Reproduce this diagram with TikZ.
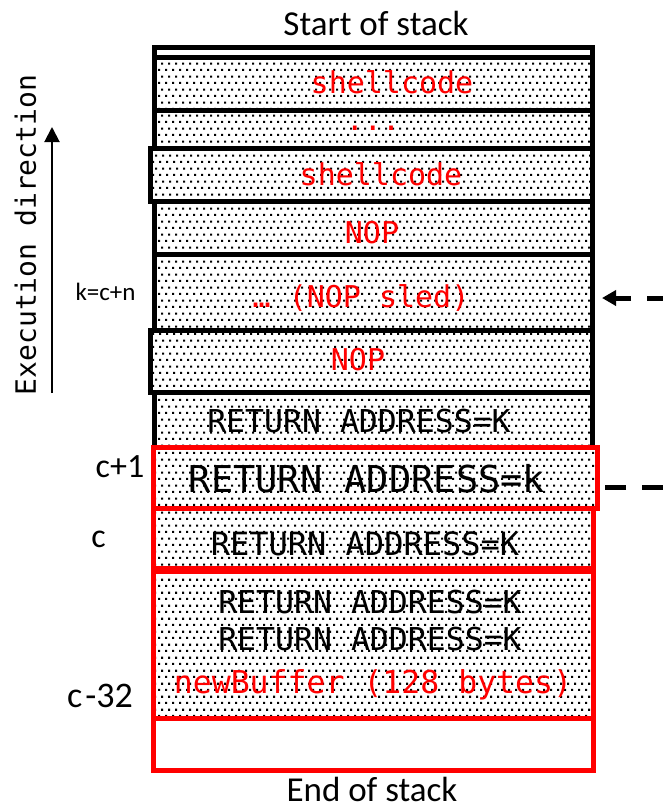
\documentclass[tikz,border=0pt]{standalone}
\usepackage{fontspec}
\setmainfont{Carlito}
\newfontfamily\codefont{DejaVu Sans Mono}
\usetikzlibrary{arrows.meta,patterns.meta}

\tikzdeclarepattern{
  name=stackdots,
  type=uncolored,
  bottom left={(0pt,0pt)},
  top right={(6.6pt,13.2pt)},
  tile size={(6.6pt,13.2pt)},
  code={
    \fill (0pt,0pt) rectangle (2.2pt,2.2pt);
    \fill (3.3pt,6.6pt) rectangle (5.5pt,8.8pt);
  }
}

\begin{document}
\begin{tikzpicture}[x=1pt,y=-1pt]
  \useasboundingbox[fill=white] (0,0) rectangle (663,809);

  \coordinate (X) at (0,0);

  % node styles
  \tikzstyle{Box}=[
  anchor=north west,
  shape=rectangle,draw,
  line width=5pt,
  inner sep=0pt,outer sep=0pt]

  \tikzstyle{Dotted}=[Box,preaction={fill=white},pattern=stackdots]
  \tikzstyle{RedBox}=[Dotted,draw=red]

  \tikzstyle{Code}=[anchor=base,inner sep=0pt,text=red,
  font=\codefont\fontsize{30}{30}\selectfont]
  \tikzstyle{Addr}=[Code,text=black,font=\codefont\fontsize{31.5}{31.5}\selectfont]
  \tikzstyle{Label}=[anchor=base,inner sep=0pt,font=\fontsize{34}{34}\selectfont]

  % stack cells, top to bottom
  \draw (X) node[Box,fill=white,minimum width=438pt,minimum height=10pt] (T)  at +(154.5, 47.5) {};
  \draw (X) node[Dotted,minimum width=438pt,minimum height=53pt]   (S1) at +(154.5, 57.5) {};
  \draw (X) node[Dotted,minimum width=438pt,minimum height=37.5pt] (D)  at +(154.5,110.5) {};
  \draw (X) node[Dotted,minimum width=442pt,minimum height=53pt]   (S2) at +(150.5,148.0) {};
  \draw (X) node[Dotted,minimum width=438pt,minimum height=53pt]   (N1) at +(154.5,201.0) {};
  \draw (X) node[Dotted,minimum width=438pt,minimum height=76pt]   (SL) at +(154.5,254.0) {};
  \draw (X) node[Dotted,minimum width=442pt,minimum height=62pt]   (N2) at +(150.5,330.0) {};
  \draw (X) node[Dotted,minimum width=438pt,minimum height=55pt]   (R0) at +(154.5,392.0) {};

  \draw (X) node[RedBox,minimum width=440pt,minimum height=60pt]   (RC) at +(153.5,508.5) {};
  \draw (X) node[RedBox,minimum width=440pt,minimum height=147pt]  (BF) at +(153.5,571.5) {};
  \draw (X) node[Box,draw=red,fill=white,minimum width=440pt,minimum height=51.5pt] (E) at +(153.5,718.5) {};
  \draw (X) node[RedBox,minimum width=443.5pt,minimum height=61pt] (RK) at +(153.5,447.5) {};

  % cell texts
  \draw (X) node[Code] (tS1) at +(392, 93) {shellcode};
  \draw (X) node[Code] (tD)  at +(373,130) {...};
  \draw (X) node[Code] (tS2) at +(381,185) {shellcode};
  \draw (X) node[Code] (tN1) at +(372,243) {NOP};
  \draw (X) node[Code] (tSL) at +(361,307) {… (NOP sled)};
  \draw (X) node[Code] (tN2) at +(358,370) {NOP};
  \draw (X) node[Addr] (tR0) at +(359,432) {RETURN ADDRESS=K};
  \draw (X) node[Addr,font=\codefont\fontsize{37}{37}\selectfont] (tRK) at +(367,492) {RETURN ADDRESS=k};
  \draw (X) node[Addr,font=\codefont\fontsize{32}{32}\selectfont] (tRC) at +(365,555) {RETURN ADDRESS=K};
  \draw (X) node[Addr] (tB1) at +(370,613) {RETURN ADDRESS=K};
  \draw (X) node[Addr] (tB2) at +(370,650) {RETURN ADDRESS=K};
  \draw (X) node[Code,font=\codefont\fontsize{31.5}{31.5}\selectfont] (tB3) at +(373,693) {newBuffer (128 bytes)};

  % labels
  \draw (X) node[Label,font=\fontsize{35}{35}\selectfont] (start) at +(376, 35) {Start of stack};
  \draw (X) node[Label,font=\fontsize{35}{35}\selectfont] (end)   at +(372,801) {End of stack};
  \draw (X) node[Label,font=\fontsize{25}{25}\selectfont] (k)  at +(105.5,300) {k=c+n};
  \draw (X) node[Label] (c1)  at +(120,477) {c+1};
  \draw (X) node[Label] (c0)  at +(98.5,547) {c};
  \draw (X) node[Label,font=\fontsize{36}{36}\selectfont] (c32) at +(100,707) {c\kern3pt-32};
  \draw (X) node[font=\codefont\fontsize{28}{28}\selectfont,rotate=90,inner sep=0pt] (dir) at +(25.5,235) {Execution direction};

  % arrows
  \coordinate (exB) at (52,393);
  \coordinate (exT) at (52,127);
  \draw[line width=2pt,-{Triangle[length=15pt,width=15pt]}] (exB) -- (exT);

  \coordinate (kIn)  at (663,298);
  \coordinate (kTip) at (602,298);
  \draw[line width=5pt,dash pattern=on 16pt off 16pt,-{Triangle[length=14pt,width=15pt]}] (kIn) -- (kTip);

  \coordinate (cIn)  at (663,487);
  \coordinate (cEnd) at (603,487);
  \draw[line width=5pt,dash pattern=on 21pt off 16pt] (cIn) -- (cEnd);

\end{tikzpicture}
\end{document}
